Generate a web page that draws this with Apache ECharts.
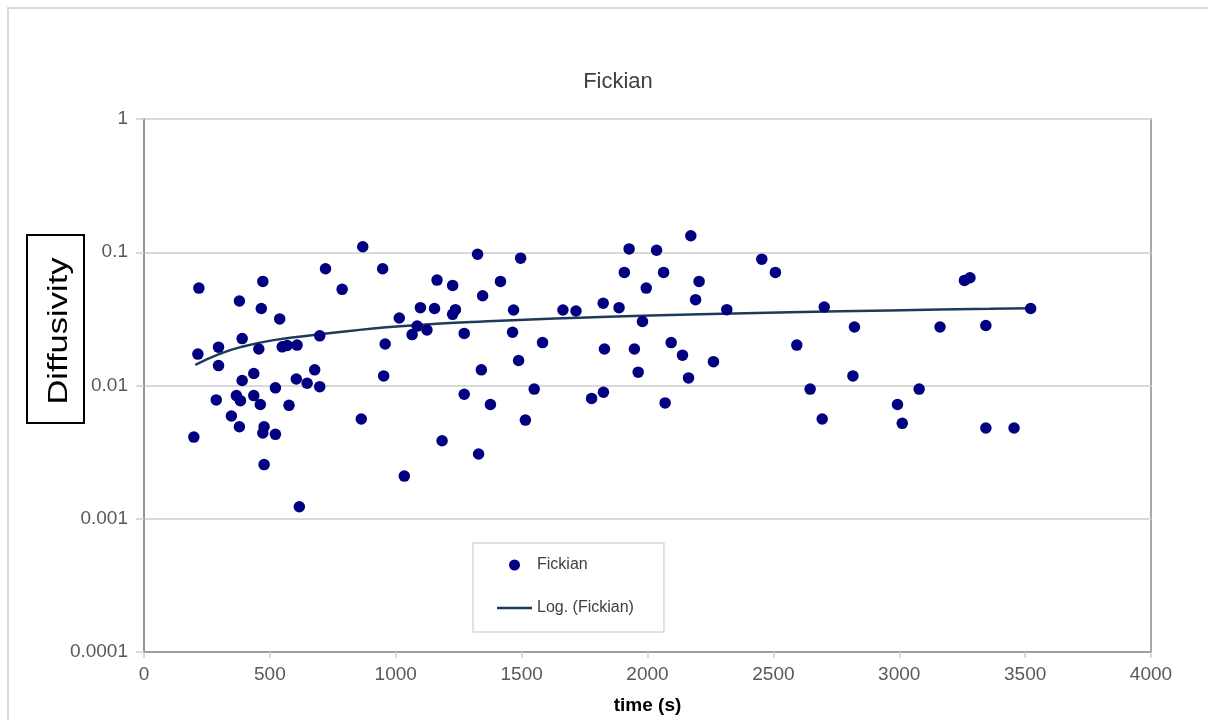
<!DOCTYPE html>
<html>
<head>
<meta charset="utf-8">
<script src="https://cdn.jsdelivr.net/npm/echarts@6/dist/echarts.min.js"></script>
<style>
html,body{margin:0;padding:0;background:#fff;}
#chart{width:1208px;height:720px;}
</style>
</head>
<body>
<div id="chart"></div>
<script>
var chartTitle = 'Fickian';
var seriesName = 'Fickian';
var trendName = 'Log. (Fickian)';
var xAxisName = 'time (s)';
var yAxisName = 'Diffusivity';
var xTickValues = [0, 500, 1000, 1500, 2000, 2500, 3000, 3500, 4000];
var xTickLabels = ['0', '500', '1000', '1500', '2000', '2500', '3000', '3500', '4000'];
var yTickValues = [0.0001, 0.001, 0.01, 0.1, 1];
var yTickLabels = ['0.0001', '0.001', '0.01', '0.1', '1'];

var timeS = [198, 214, 218, 287, 296, 296, 347, 367, 379, 379, 383, 390, 390, 436, 436, 456, 462, 466, 472, 472,
  477, 477, 522, 522, 539, 549, 569, 576, 605, 608, 617, 648, 678, 698, 698, 721, 787, 863, 869, 948,
  952, 958, 1014, 1034, 1065, 1085, 1098, 1124, 1154, 1164, 1184, 1226, 1226, 1237, 1272, 1272, 1325, 1329, 1340, 1345,
  1376, 1416, 1464, 1468, 1488, 1496, 1515, 1550, 1583, 1664, 1716, 1778, 1824, 1825, 1829, 1887, 1908, 1927, 1948, 1963,
  1980, 1995, 2036, 2064, 2070, 2094, 2139, 2163, 2172, 2191, 2205, 2262, 2315, 2454, 2508, 2593, 2646, 2694, 2702, 2816,
  2822, 2993, 3012, 3079, 3162, 3259, 3281, 3344, 3344, 3456, 3522];
var diffusivity = [0.0041, 0.0172, 0.0538, 0.0078, 0.0194, 0.0141, 0.0059, 0.0084, 0.0431, 0.0049, 0.0077, 0.0225, 0.0109, 0.0123, 0.0084, 0.0188, 0.0072, 0.0378, 0.0604, 0.0044,
  0.0049, 0.00255, 0.0096, 0.0043, 0.0316, 0.0195, 0.0200, 0.0071, 0.0112, 0.0201, 0.00123, 0.0104, 0.0131, 0.0236, 0.0098, 0.0752, 0.0527, 0.0056, 0.110, 0.0752,
  0.0118, 0.0205, 0.0321, 0.00209, 0.0241, 0.0279, 0.0384, 0.0261, 0.0378, 0.0618, 0.00385, 0.0564, 0.0342, 0.0371, 0.0246, 0.0086, 0.0967, 0.00306, 0.0131, 0.0472,
  0.0072, 0.0604, 0.0251, 0.0369, 0.0154, 0.0903, 0.0055, 0.0094, 0.0210, 0.0369, 0.0362, 0.0080, 0.0414, 0.0089, 0.0188, 0.0384, 0.0706, 0.106, 0.0188, 0.0126,
  0.0302, 0.0538, 0.1036, 0.0706, 0.0074, 0.0210, 0.0169, 0.0114, 0.133, 0.0441, 0.0604, 0.0151, 0.0371, 0.0887, 0.0706, 0.0201, 0.0094, 0.0056, 0.0388, 0.0118,
  0.0275, 0.0072, 0.0052, 0.0094, 0.0275, 0.0615, 0.0644, 0.0282, 0.0048, 0.0048, 0.0378];

// Trendline samples
var trendX = [204, 296, 383, 515, 701, 1018, 1415, 1812, 2209, 2566, 2963, 3361, 3522];
var trendY = [0.0143, 0.0171, 0.0194, 0.0219, 0.0242, 0.0278, 0.0306, 0.0326, 0.0342, 0.0354, 0.0366, 0.0376, 0.0380];

var scatterData = timeS.map(function (t, i) { return [t, diffusivity[i]]; });
var trendData = trendX.map(function (t, i) { return [t, trendY[i]]; });

var FONT = '"Liberation Sans", Arial, sans-serif';
var chart = echarts.init(document.getElementById('chart'), null, {renderer: 'canvas'});
chart.setOption({
  animation: false,
  backgroundColor: '#ffffff',
  title: {
    text: chartTitle,
    left: 613, top: 66, textAlign: 'center',
    textStyle: {fontFamily: FONT, fontSize: 22, fontWeight: 'normal', color: '#404040'}
  },
  grid: {
    left: 144, right: 57, top: 119, bottom: 67,
    show: true, borderColor: '#8c8c8c', borderWidth: 1.5, backgroundColor: 'transparent'
  },
  legend: {
    left: 473, top: 543,
    orient: 'vertical',
    padding: [14, 30, 16, 24],
    itemGap: 27,
    itemWidth: 35, itemHeight: 11,
    backgroundColor: '#ffffff',
    borderColor: '#d9d9d9', borderWidth: 1.5,
    textStyle: {fontFamily: FONT, fontSize: 16, color: '#404040', lineHeight: 16},
    data: [
      {name: seriesName, icon: 'circle'},
      {name: trendName, icon: 'path://M0,0 L140,0 L140,10 L0,10 Z', itemStyle: {color: '#1f3b5a'}}
    ]
  },
  xAxis: {
    type: 'value', min: 0, max: 4000, interval: 500,
    name: xAxisName, nameLocation: 'middle', nameGap: 44,
    nameTextStyle: {fontFamily: FONT, fontSize: 19, fontWeight: 'bold', color: '#000000'},
    axisLine: {show: true, lineStyle: {color: '#8c8c8c', width: 1.5}},
    axisTick: {show: true, length: 6, lineStyle: {color: '#d0d0d0', width: 1.5}},
    axisLabel: {
      margin: 13, fontFamily: FONT, fontSize: 19, color: '#595959',
      formatter: function (v) { var i = xTickValues.indexOf(v); return i >= 0 ? xTickLabels[i] : ''; }
    },
    splitLine: {show: false}
  },
  yAxis: {
    type: 'log', logBase: 10, min: 0.0001, max: 1,
    axisLine: {show: true, lineStyle: {color: '#8c8c8c', width: 1.5}},
    axisTick: {show: true, length: 8, lineStyle: {color: '#d0d0d0', width: 1.5}},
    axisLabel: {
      margin: 16, fontFamily: FONT, fontSize: 19, color: '#595959',
      formatter: function (v) {
        var best = 0, bd = Infinity;
        yTickValues.forEach(function (tv, i) { var d = Math.abs(Math.log10(tv) - Math.log10(v)); if (d < bd) { bd = d; best = i; } });
        return yTickLabels[best];
      }
    },
    splitLine: {show: true, lineStyle: {color: '#d9d9d9', width: 2}},
    minorTick: {show: false}
  },
  graphic: [
    {type: 'rect', z: -10, silent: true,
      shape: {x: 8, y: 8, width: 1220, height: 730},
      style: {fill: 'none', stroke: '#d9d9d9', lineWidth: 2}},
    {type: 'rect', z: 10, silent: true,
      shape: {x: 27, y: 235, width: 57, height: 188},
      style: {fill: '#ffffff', stroke: '#000000', lineWidth: 2}},
    {type: 'text', z: 11, silent: true,
      x: 60, y: 331, rotation: Math.PI / 2, scaleX: 1.28,
      style: {text: yAxisName, fontFamily: FONT, fontSize: 27, fill: '#000000', align: 'center', verticalAlign: 'middle'}}
  ],
  series: [
    {
      name: trendName, type: 'line', data: trendData,
      symbol: 'none', smooth: 0.5,
      lineStyle: {color: '#1f3b5a', width: 2.5},
      itemStyle: {color: '#1f3b5a'},
      z: 2
    },
    {
      name: seriesName, type: 'scatter', data: scatterData,
      symbol: 'circle', symbolSize: 11.5,
      itemStyle: {color: '#000080', opacity: 1},
      z: 3
    }
  ]
});
</script>
</body>
</html>
